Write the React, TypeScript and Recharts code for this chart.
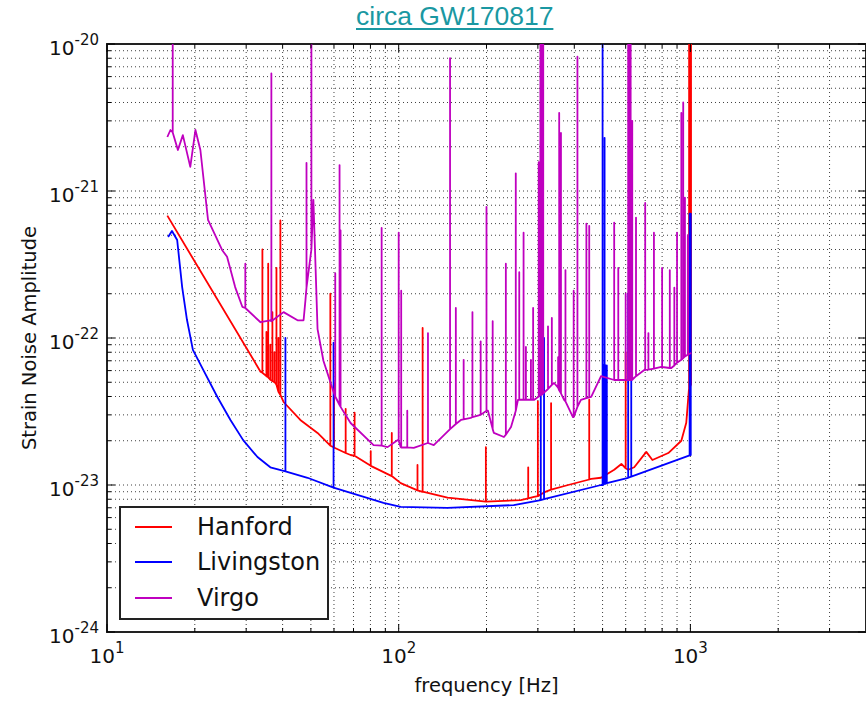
import { LineChart, Line, XAxis, YAxis, CartesianGrid, ReferenceArea, Legend } from 'recharts'

// plot frame (matplotlib-style axes box)
const WIDTH = 866
const HEIGHT = 702
const PLOT_TOP = 44
const PLOT_BOTTOM = 632

const TICK_FONT = 'DejaVu Sans, sans-serif'

// axis ticks
const xMajor = [10, 100, 1000]
const xMinor = [20, 30, 40, 50, 60, 70, 80, 90, 200, 300, 400, 500, 600, 700, 800, 900, 2000, 3000]
const yMajor = [1e-24, 1e-23, 1e-22, 1e-21, 1e-20]
const minorSteps = [2, 3, 4, 5, 6, 7, 8, 9]

// [frequency Hz, strain] along the smooth noise floor
const hanfordFloor: [number, number][] = [
  [16.1, 6.8e-22], [33.6, 5.9e-23], [37.8, 4.94e-23], [40.3, 3.67e-23], [46.0, 2.77e-23],
  [52.7, 2.26e-23], [59.8, 1.81e-23], [68.4, 1.6e-23], [80.2, 1.35e-23], [94.7, 1.15e-23],
  [101.6, 1.03e-23], [120, 9.0e-24], [147, 8.2e-24], [199, 7.7e-24], [262, 7.9e-24],
  [291, 8.3e-24], [315, 8.9e-24], [381, 1.0e-23], [457, 1.1e-23], [494, 1.12e-23],
  [548, 1.27e-23], [580, 1.39e-23], [612, 1.27e-23], [642, 1.32e-23], [706, 1.68e-23],
  [741, 1.48e-23], [840, 1.65e-23], [931, 2.0e-23], [968, 2.65e-23], [988, 4.4e-23],
]
// [frequency Hz, floor, peak] of each narrow line
const hanfordLines: [number, number, number][] = [
  [34.1, 5.8e-23, 4.0e-22], [35.2, 5.5e-23, 1.1e-22], [35.7, 5.4e-23, 3.2e-22],
  [36.3, 5.2e-23, 9.0e-23], [36.9, 5.1e-23, 1.5e-22], [37.5, 5.0e-23, 8.0e-23],
  [38.1, 4.8e-23, 3.0e-22], [38.7, 4.3e-23, 1.0e-22], [39.3, 4.1e-23, 6.3e-22],
  [58.3, 1.85e-23, 2.0e-22], [60.0, 1.8e-23, 5.0e-23], [65.8, 1.65e-23, 3.3e-23],
  [70.6, 1.58e-23, 3.1e-23], [80.2, 1.35e-23, 1.7e-23], [94.7, 1.15e-23, 2.26e-23],
  [116, 9.2e-24, 1.37e-23], [120.8, 9.0e-24, 1.17e-22], [199, 7.7e-24, 1.81e-23],
  [278, 8.1e-24, 1.32e-23], [300, 8.4e-24, 3.7e-23], [333, 9.3e-24, 3.6e-23],
  [450, 1.09e-23, 3.8e-23], [600, 1.3e-23, 8.0e-23],
  [990, 4.5e-23, 1e-20], [993, 4.6e-23, 1e-20], [996, 4.6e-23, 1e-20],
  [999, 4.7e-23, 1e-20], [1002, 4.8e-23, 1e-20], [1005, 4.8e-23, 1e-20],
]

const livingstonFloor: [number, number][] = [
  [16.2, 4.86e-22], [16.7, 5.35e-22], [17.4, 4.64e-22], [18.1, 2.22e-22], [18.8, 1.33e-22],
  [19.7, 8.3e-23], [21.4, 6.05e-23], [23.9, 3.97e-23], [26.5, 2.77e-23], [29.3, 2.02e-23],
  [32.8, 1.55e-23], [36.3, 1.32e-23], [40.9, 1.24e-23], [48.7, 1.12e-23], [59.8, 9.6e-24],
  [88.7, 7.55e-24], [101.6, 7.1e-24], [147, 6.98e-24], [248, 7.3e-24], [307, 7.9e-24],
  [494, 1.0e-23], [612, 1.12e-23], [1000, 1.6e-23],
]
const livingstonLines: [number, number, number][] = [
  [40.9, 1.24e-23, 1.0e-22], [59.8, 9.6e-24, 9.3e-23], [307, 7.9e-24, 1.0e-22],
  [315, 8.0e-24, 1.0e-22], [500, 1.0e-23, 1e-20], [504, 1.01e-23, 6.5e-23],
  [508, 1.02e-23, 2.3e-21], [512, 1.02e-23, 6.5e-23], [517, 1.03e-23, 6.5e-23],
  [612, 1.12e-23, 2.0e-22], [627, 1.14e-23, 2.0e-22], [994, 1.59e-23, 7.0e-22],
  [997, 1.6e-23, 2.4e-22], [1000, 1.6e-23, 2.4e-22], [1003, 1.6e-23, 7.0e-22],
]

const virgoFloor: [number, number][] = [
  [16.1, 2.33e-21], [16.5, 2.6e-21], [17.5, 1.9e-21], [18.2, 2.4e-21], [19.3, 1.46e-21],
  [20.1, 2.6e-21], [20.9, 1.9e-21], [22.2, 6.35e-22], [24.8, 3.97e-22], [25.8, 3.57e-22],
  [27.5, 2.22e-22], [29.1, 1.63e-22], [30.3, 1.55e-22], [33.6, 1.28e-22], [36.3, 1.32e-22],
  [40.3, 1.5e-22], [45.0, 1.32e-22], [47.2, 1.32e-22], [47.9, 1.81e-22], [51.0, 8.7e-22],
  [52.7, 1.15e-22], [55.2, 7.0e-23], [59.8, 4.3e-23], [68.4, 2.64e-23], [82.0, 1.87e-23],
  [91.6, 1.81e-23], [99.3, 2.02e-23], [101.6, 1.81e-23], [112.6, 1.79e-23], [125.8, 1.93e-23],
  [131.9, 1.87e-23], [163.4, 2.77e-23], [176.6, 2.86e-23], [188.2, 2.98e-23], [202.3, 3.2e-23],
  [212, 2.26e-23], [229.5, 2.12e-23], [242.7, 2.48e-23], [256.4, 3.79e-23], [291, 3.79e-23],
  [341, 4.94e-23], [369, 3.79e-23], [395.7, 2.9e-23], [421.4, 3.79e-23], [457, 3.97e-23],
  [494, 5.5e-23], [548, 5.18e-23], [627, 5.18e-23], [695, 6.06e-23], [794.6, 6.35e-23],
  [860, 6.25e-23], [931, 7.1e-23], [1006, 7.9e-23],
]
const virgoLines: [number, number, number][] = [
  [16.8, 2.5e-21, 1e-20], [29.8, 1.6e-22, 3.2e-22], [36.6, 1.3e-22, 6.3e-21],
  [48.3, 2.2e-22, 1.55e-21], [50.2, 4.0e-22, 1e-20], [60.6, 4.0e-23, 2.76e-22],
  [62.7, 3.5e-23, 1.5e-21], [63.2, 3.4e-23, 5.4e-22], [87.4, 1.85e-23, 5.6e-22],
  [100, 2.0e-23, 5.2e-22], [102, 1.8e-23, 2.1e-22], [107, 1.8e-23, 3.2e-23],
  [126, 1.93e-23, 1.08e-22], [150, 2.4e-23, 8.0e-21], [157, 2.6e-23, 1.6e-22],
  [167, 2.8e-23, 7.1e-23], [179, 2.9e-23, 1.5e-22], [191, 3.0e-23, 9.5e-23],
  [200, 3.2e-23, 7.8e-22], [210, 2.4e-23, 1.3e-22], [233, 2.2e-23, 3.2e-22],
  [252, 3.2e-23, 1.32e-21], [259, 3.8e-23, 2.8e-22], [268, 3.8e-23, 5.2e-22],
  [273, 3.8e-23, 8.7e-23], [284, 3.8e-23, 7.1e-23], [289, 3.8e-23, 1.6e-22],
  [302, 4.0e-23, 1.57e-21], [306, 4.1e-23, 1e-20], [309, 4.1e-23, 1e-20],
  [313, 4.2e-23, 1e-20], [325, 4.5e-23, 1.2e-22], [335, 4.8e-23, 1.37e-22],
  [352, 4.6e-23, 7.4e-23], [355, 4.4e-23, 3.4e-21], [360, 4.2e-23, 2.48e-21],
  [373, 3.7e-23, 2.9e-22], [398, 2.9e-23, 2.1e-22], [410, 3.4e-23, 8.2e-21],
  [440, 3.9e-23, 6.0e-22], [450, 3.95e-23, 5.8e-22], [548, 5.18e-23, 6.1e-22],
  [566, 5.18e-23, 3.0e-22], [600, 5.18e-23, 2.0e-22], [612, 5.18e-23, 1e-20],
  [618, 5.18e-23, 1e-20], [624, 5.18e-23, 1e-20], [632, 5.2e-23, 3.0e-21],
  [651, 5.5e-23, 6.6e-22], [700, 6.06e-23, 8.3e-22], [718, 6.1e-23, 1.08e-22],
  [750, 6.2e-23, 5.2e-22], [800, 6.35e-23, 3.0e-22], [850, 6.25e-23, 2.9e-22],
  [881, 6.5e-23, 2.2e-22], [900, 6.8e-23, 5.2e-22], [931, 7.1e-23, 3.4e-21],
  [945, 7.3e-23, 4.0e-21], [958, 7.5e-23, 9.0e-22], [980, 7.7e-23, 5.0e-22],
]

type Pt = { f: number; v: number }

// floor points plus each line drawn as floor -> peak -> floor at its frequency
function buildSeries(floor: [number, number][], lines: [number, number, number][]): Pt[] {
  const pts: { f: number; v: number; o: number }[] = []
  floor.forEach(([f, v], i) => pts.push({ f, v, o: i * 10 }))
  lines.forEach(([f, b, p], i) => {
    const o = 100000 + i * 10
    pts.push({ f, v: b, o }, { f, v: p, o: o + 1 }, { f, v: b, o: o + 2 })
  })
  pts.sort((a, b) => a.f - b.f || a.o - b.o)
  return pts.map(({ f, v }) => ({ f, v }))
}

const series = [
  { name: 'Hanford', color: '#ff0000', data: buildSeries(hanfordFloor, hanfordLines) },
  { name: 'Livingston', color: '#0000ff', data: buildSeries(livingstonFloor, livingstonLines) },
  { name: 'Virgo', color: '#bf00bf', data: buildSeries(virgoFloor, virgoLines) },
]

const xTicks = [...xMajor, ...xMinor].sort((a, b) => a - b)
const yTicks = [
  ...yMajor,
  ...yMajor.slice(0, -1).flatMap(d => minorSteps.map(k => k * d)),
].sort((a, b) => a - b)

const isMajor = (v: number) => Math.abs(Math.log10(v) - Math.round(Math.log10(v))) < 1e-6
const exponent = (v: number) => Math.round(Math.log10(v))

function XTick(props: any) {
  const { x, payload } = props
  const major = isMajor(payload.value)
  const len = major ? 8 : 4
  return (
    <g>
      <line x1={x} x2={x} y1={PLOT_BOTTOM} y2={PLOT_BOTTOM - len} stroke="#000" />
      <line x1={x} x2={x} y1={PLOT_TOP} y2={PLOT_TOP + len} stroke="#000" />
      {major && (
        <text x={x} y={663} textAnchor="middle" fontFamily={TICK_FONT} fontSize={20} fill="#111">
          10<tspan dy={-10} fontSize={15}>{exponent(payload.value)}</tspan>
        </text>
      )}
    </g>
  )
}

function YTick(props: any) {
  const { y, payload } = props
  const major = isMajor(payload.value)
  const len = major ? 8 : 4
  return (
    <g>
      <line x1={107} x2={107 + len} y1={y} y2={y} stroke="#000" />
      <line x1={WIDTH} x2={WIDTH - len} y1={y} y2={y} stroke="#000" />
      {major && (
        <text x={99} y={y + 11} textAnchor="end" fontFamily={TICK_FONT} fontSize={20} fill="#111">
          10<tspan dy={-10} fontSize={15}>{exponent(payload.value)}</tspan>
        </text>
      )}
    </g>
  )
}

function LegendBox() {
  return (
    <div
      style={{
        width: 210,
        height: 114,
        boxSizing: 'border-box',
        border: '2px solid #222',
        background: '#fff',
        paddingTop: 1,
        fontFamily: TICK_FONT,
        fontSize: 24,
        color: '#111',
      }}
    >
      {series.map(s => (
        <div key={s.name} style={{ display: 'flex', alignItems: 'center', height: 35.5 }}>
          <svg width={76} height={10} style={{ flex: 'none' }}>
            <line x1={14} x2={51} y1={5} y2={5} stroke={s.color} strokeWidth={1.8} />
          </svg>
          <span>{s.name}</span>
        </div>
      ))}
    </div>
  )
}

export default function App() {
  return (
    <div style={{ position: 'absolute', left: 0, top: 0, width: WIDTH, height: HEIGHT, background: '#fff' }}>
      <div
        style={{
          position: 'absolute',
          left: 356,
          top: 1,
          fontFamily: 'Liberation Sans, Arial, sans-serif',
          fontSize: 26.5,
          color: '#1a98a2',
          textDecoration: 'underline',
          textDecorationThickness: 2,
          textUnderlineOffset: 3,
          whiteSpace: 'nowrap',
        }}
      >
        circa GW170817
      </div>
      <LineChart width={WIDTH} height={HEIGHT} margin={{ top: PLOT_TOP, right: 0, bottom: 0, left: 0 }}>
        <CartesianGrid stroke="#000" strokeDasharray="1 3" strokeOpacity={0.75} />
        <XAxis
          dataKey="f"
          type="number"
          scale="log"
          domain={[10, 4000]}
          ticks={xTicks}
          interval={0}
          allowDataOverflow
          height={HEIGHT - PLOT_BOTTOM}
          tickLine={false}
          axisLine={false}
          tick={<XTick />}
          label={{
            content: ({ viewBox }: any) => (
              <text
                x={viewBox.x + viewBox.width / 2}
                y={692}
                textAnchor="middle"
                fontFamily={TICK_FONT}
                fontSize={19.5}
                fill="#111"
              >
                frequency [Hz]
              </text>
            ),
          }}
        />
        <YAxis
          dataKey="v"
          type="number"
          scale="log"
          domain={[1e-24, 1e-20]}
          ticks={yTicks}
          interval={0}
          allowDataOverflow
          width={107}
          tickLine={false}
          axisLine={false}
          tick={<YTick />}
          label={{
            content: ({ viewBox }: any) => {
              const cx = viewBox.x + 29
              const cy = viewBox.y + viewBox.height / 2
              return (
                <text
                  x={cx}
                  y={cy}
                  transform={`rotate(-90, ${cx}, ${cy})`}
                  textAnchor="middle"
                  dominantBaseline="central"
                  fontFamily={TICK_FONT}
                  fontSize={19.5}
                  fill="#111"
                >
                  Strain Noise Amplitude
                </text>
              )
            },
          }}
        />
        {series.map(s => (
          <Line
            key={s.name}
            name={s.name}
            data={s.data}
            dataKey="v"
            type="linear"
            stroke={s.color}
            strokeWidth={1.8}
            strokeLinejoin="round"
            dot={false}
            activeDot={false}
            isAnimationActive={false}
          />
        ))}
        <ReferenceArea x1={10} x2={4000} y1={1e-24} y2={1e-20} fill="none" stroke="#222" strokeWidth={2} />
        <Legend
          layout="vertical"
          align="center"
          verticalAlign="middle"
          content={<LegendBox />}
          wrapperStyle={{ left: 119, top: 506, width: 210, height: 114 }}
        />
      </LineChart>
    </div>
  )
}
